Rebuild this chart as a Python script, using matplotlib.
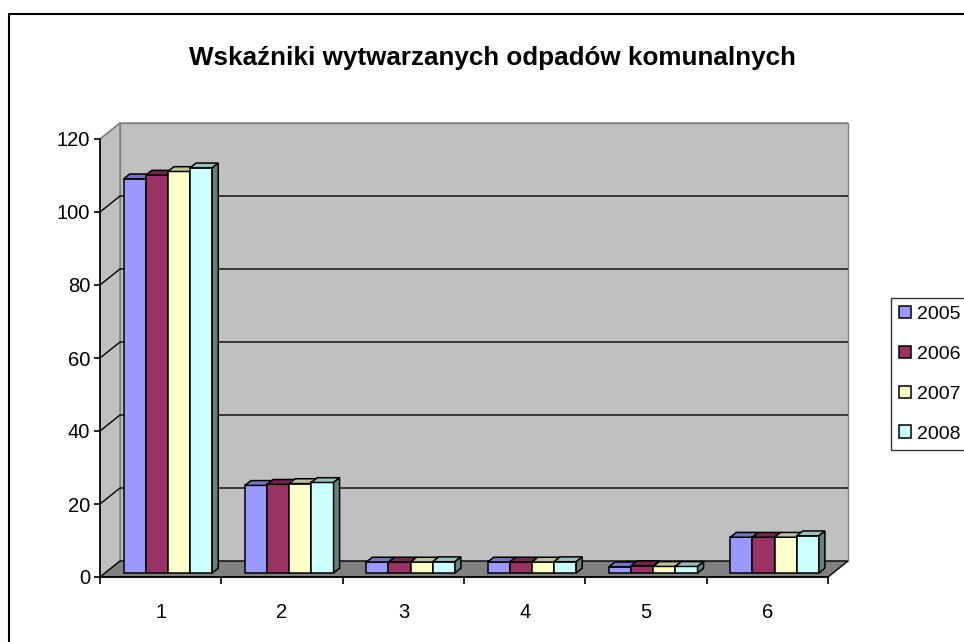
import matplotlib
matplotlib.use('Agg')
import matplotlib.pyplot as plt
from matplotlib.patches import Polygon
from matplotlib.lines import Line2D
import numpy as np

plt.rcParams['font.family'] = ['Liberation Sans', 'DejaVu Sans']

# ---------------- data ----------------
title = 'Wskaźniki wytwarzanych odpadów komunalnych'
categories = ['1', '2', '3', '4', '5', '6']
series_names = ['2005', '2006', '2007', '2008']
v2005 = [108.0, 24.0, 3.0, 3.0, 1.7, 9.8]
v2006 = [109.0, 24.3, 3.0, 3.0, 2.0, 9.8]
v2007 = [110.0, 24.5, 3.0, 3.0, 1.8, 9.8]
v2008 = [111.0, 24.8, 3.1, 3.1, 1.8, 10.2]
y_ticks = [0, 20, 40, 60, 80, 100, 120]
colors = ['#9999FF', '#993366', '#FFFFCC', '#CCFFFF']

# ---------------- layout ----------------
W, H = 964, 642
fig = plt.figure(figsize=(W / 100, H / 100), dpi=100)

X0, X1 = 100, 848      # plot area left/right (px)
Y0, Y1 = 577, 123      # plot area bottom/top (px from top)
DXP, DYP = 20, 16      # 3-D depth offset (px)
n = len(categories)
ymax = y_ticks[-1]
sx = (X1 - X0 - DXP) / n
sy = (Y0 - Y1 - DYP) / ymax
DX = DXP / sx
DY = DYP / sy

ax = fig.add_axes([X0 / W, (H - Y0) / H, (X1 - X0) / W, (Y0 - Y1) / H])
ax.set_xlim(0, n + DX)
ax.set_ylim(0, ymax + DY)
ax.patch.set_visible(False)
for s in ['top', 'right']:
    ax.spines[s].set_visible(False)

wall_c = '#C0C0C0'
floor_c = '#808080'
edge_c = '#808080'

# walls & floor
side = Polygon([(0, 0), (DX, DY), (DX, ymax + DY), (0, ymax)], closed=True,
               facecolor=wall_c, edgecolor=edge_c, lw=1, zorder=0.5, clip_on=False)
back = Polygon([(DX, DY), (n + DX, DY), (n + DX, ymax + DY), (DX, ymax + DY)], closed=True,
               facecolor=wall_c, edgecolor=edge_c, lw=1, zorder=0.5, clip_on=False)
floor = Polygon([(0, 0), (n, 0), (n + DX, DY), (DX, DY)], closed=True,
                facecolor=floor_c, edgecolor='black', lw=1, zorder=0.8, clip_on=False)
for p in (side, back, floor):
    ax.add_patch(p)

# gridlines on side + back wall
for t in y_ticks[1:]:
    col = edge_c if t == ymax else 'black'
    ax.plot([0, DX, n + DX], [t, t + DY, t + DY], color=col, lw=1, zorder=0.9,
            clip_on=False, solid_capstyle='butt')

# ---------------- bars ----------------
D0, D1 = 0.25, 0.55
bw = 0.1825
goff = 0.56
all_vals = [v2005, v2006, v2007, v2008]
x = np.arange(n)


def shade(c, f):
    r, g, b = matplotlib.colors.to_rgb(c)
    return (r * f, g * f, b * f)


handles = []
for j, (vals, c, name) in enumerate(zip(all_vals, colors, series_names)):
    left = x + goff - 2 * bw + j * bw
    z = 3 + j * 0.1
    bars = ax.bar(left, vals, width=bw, bottom=D0 * DY, align='edge', color=c,
                  edgecolor='black', lw=1.1, zorder=z, label=name)
    handles.append(bars)
    ddx = (D1 - D0) * DX
    ddy = (D1 - D0) * DY
    for r in bars.patches:
        x0, y0, w, h = r.get_x(), r.get_y(), r.get_width(), r.get_height()
        top = y0 + h
        ax.add_patch(Polygon([(x0, top), (x0 + w, top), (x0 + w + ddx, top + ddy),
                              (x0 + ddx, top + ddy)], closed=True,
                             facecolor=shade(c, 0.75), edgecolor='black', lw=1.1,
                             zorder=z + 0.05, clip_on=False))
        ax.add_patch(Polygon([(x0 + w, y0), (x0 + w + ddx, y0 + ddy),
                              (x0 + w + ddx, top + ddy), (x0 + w, top)], closed=True,
                             facecolor=shade(c, 0.5), edgecolor='black', lw=1.1,
                             zorder=z + 0.05, clip_on=False))

# ---------------- axes ----------------
ax.spines['left'].set_bounds(0, ymax)
ax.spines['bottom'].set_bounds(0, n)
ax.spines['left'].set_linewidth(1.2)
ax.spines['bottom'].set_linewidth(1.2)
ax.spines['left'].set_zorder(10)
ax.spines['bottom'].set_zorder(10)
ax.set_yticks(y_ticks)
ax.set_yticklabels([str(t) for t in y_ticks])
ax.tick_params(axis='y', length=4, width=1.2, pad=3, labelsize=14.5)
ax.set_xticks(np.arange(n + 1))
ax.set_xticklabels([''] * (n + 1))
ax.set_xticks(x + 0.5, minor=True)
ax.set_xticklabels(categories, minor=True)
ax.tick_params(axis='x', which='major', length=5, width=1.2)
ax.tick_params(axis='x', which='minor', length=0, pad=19, labelsize=14.5)

# ---------------- title, legend, frame ----------------
fig.text(492 / W, 1 - 58 / H, title, ha='center', va='center', fontsize=18.7,
         fontweight='bold')

leg = fig.legend(handles=handles, labels=series_names, loc='upper left',
                 bbox_to_anchor=(891 / W, 1 - 298 / H), frameon=True, fancybox=False,
                 edgecolor='black', fontsize=14, handlelength=0.62, handleheight=0.62,
                 handletextpad=0.33, labelspacing=1.17, borderpad=0.4, borderaxespad=0)
leg.get_frame().set_linewidth(1)

fig.add_artist(Line2D([9 / W, 9 / W, 1.0], [0.0, 1 - 14 / H, 1 - 14 / H],
                      transform=fig.transFigure, color='black', lw=1.5))

fig.savefig('out.png', dpi=100)
